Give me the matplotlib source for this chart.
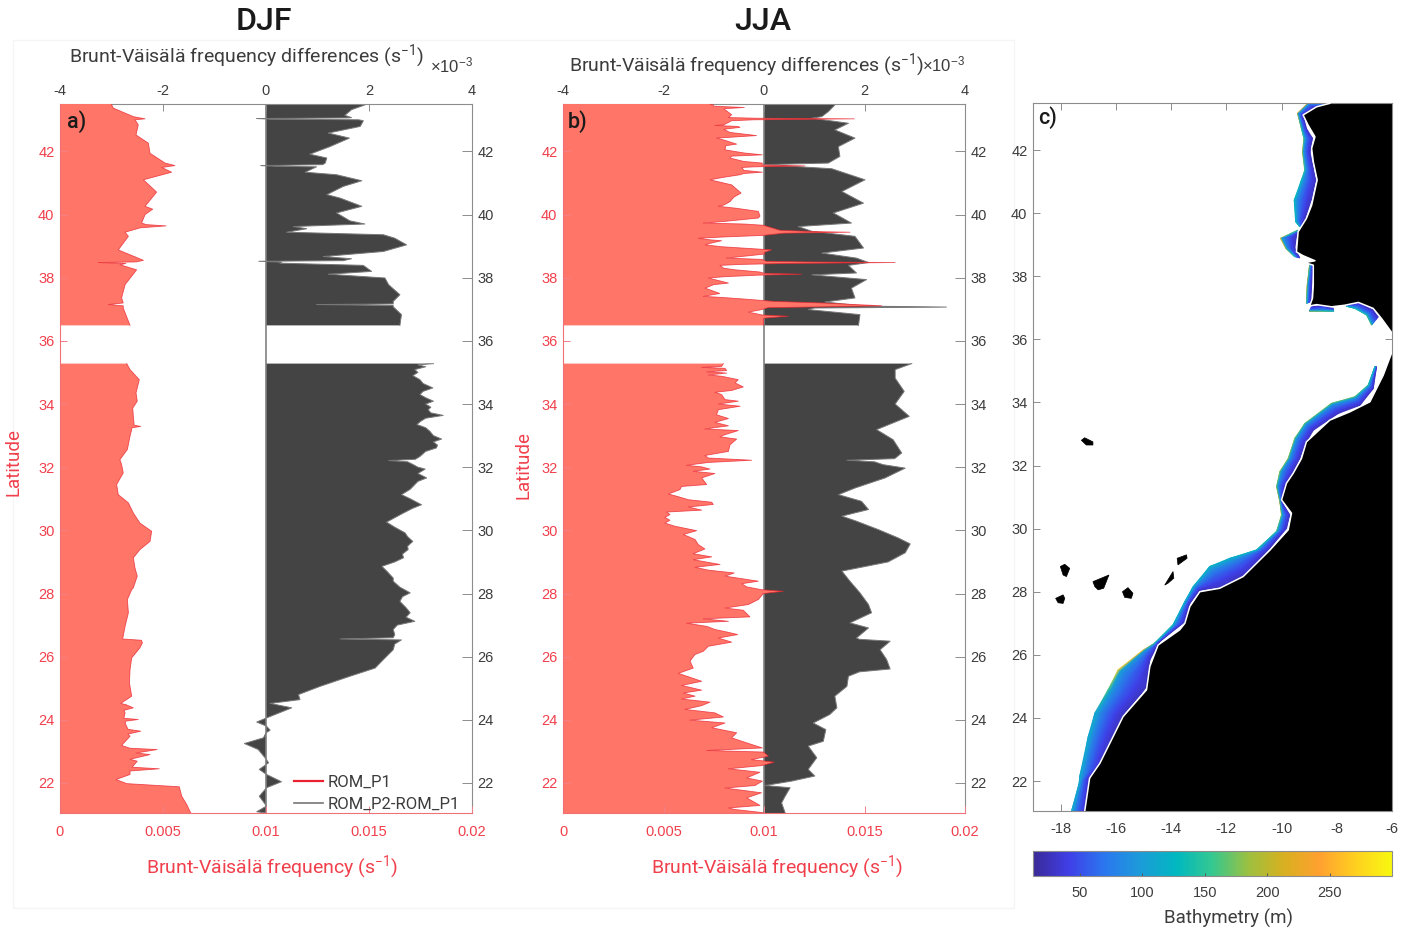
import numpy as np
import matplotlib
matplotlib.use("Agg")
import matplotlib.pyplot as plt
from matplotlib.colors import LinearSegmentedColormap, Normalize
from matplotlib.patches import Rectangle
from matplotlib.cm import ScalarMappable

W, H = 1411, 932
nan = float("nan")

# ---------- panel a (DJF) ----------
A_P1_LAT = [43.5,43.47,43.37,43.10,43.03,43.0,42.84,42.52,42.26,41.94,41.63,41.55,41.49,41.34,41.10,40.71,40.26,40.17,40.0,39.73,39.68,39.64,39.58,39.44,39.31,38.88,38.55,38.50,38.48,38.45,38.41,38.25,37.78,37.36,37.20,37.15,37.11,37.04,36.49,nan,
            35.28,35.09,34.77,34.35,34.09,33.87,33.61,33.33,33.29,33.25,32.98,32.56,32.24,32.08,31.82,31.45,31.13,30.87,30.55,30.23,29.97,29.65,29.39,29.13,28.81,28.55,28.18,
            28.12,27.81,27.39,26.96,26.56,26.52,26.44,26.28,25.96,25.59,25.17,24.75,24.52,24.48,24.38,24.30,24.22,24.05,24.01,23.96,23.90,23.70,23.64,23.55,23.48,23.19,23.10,23.06,22.95,22.90,22.75,22.69,22.50,22.45,22.38,22.27,22.11,21.98,21.88,21.58,21.32,21.06,21.0]
A_P1_VAL = [2.5,2.51,2.59,3.56,4.13,3.64,3.80,3.69,4.29,4.37,5.10,5.58,4.94,5.42,4.05,4.69,4.13,4.50,4.13,3.96,4.2,5.15,3.9,3.16,3.32,2.83,4.05,3.7,1.86,3.2,2.91,3.72,3.16,2.99,3.07,2.35,3.07,3.07,3.40,nan,
            3.24,3.40,3.85,3.69,3.75,3.53,3.56,3.6,3.92,3.5,3.40,3.27,2.91,2.99,3.07,2.75,2.83,3.32,3.56,3.88,4.45,4.37,3.88,3.56,3.64,3.75,3.56,
            3.48,3.27,3.32,3.16,3.04,3.95,4.0,3.88,3.48,3.40,3.37,3.48,2.95,3.2,3.56,3.1,3.16,3.1,3.80,3.2,3.16,3.3,3.92,3.3,3.40,2.99,3.4,4.72,3.7,4.37,3.4,3.75,3.5,4.82,3.4,3.40,2.72,3.24,5.79,5.91,6.15,6.34,6.4]
A_DIFF_LAT = [43.5,43.47,43.32,43.14,43.07,43.06,43.04,43.02,43.0,42.97,42.79,42.58,42.42,42.15,41.91,41.79,41.63,41.58,41.55,41.53,41.51,41.34,41.26,41.07,40.89,40.63,40.52,40.26,40.05,39.80,39.70,39.62,39.55,39.44,39.36,39.25,39.04,38.83,38.67,38.60,38.54,38.52,38.49,38.46,38.39,38.20,38.11,37.99,37.78,37.46,37.25,37.17,37.15,37.12,37.08,36.83,36.49,nan,
              35.28,35.24,35.18,35.09,35.0,34.9,34.77,34.65,34.51,34.40,34.30,34.2,34.09,34.0,33.90,33.82,33.72,33.64,33.55,33.45,33.35,33.25,33.14,33.0,32.89,32.8,32.7,32.61,32.5,32.34,32.25,32.21,32.17,32.08,32.0,31.94,31.8,31.66,31.55,31.45,31.3,31.13,31.0,30.81,30.7,30.55,30.4,30.26,30.1,29.92,29.8,29.65,29.5,29.39,29.25,29.13,29.0,28.86,28.7,28.49,
              28.39,28.2,28.02,27.9,27.75,27.55,27.39,27.25,27.12,27.0,26.86,26.7,26.60,26.56,26.53,26.4,26.22,25.91,25.64,25.38,25.06,24.80,24.64,24.52,24.38,24.06,23.93,23.80,23.67,23.59,23.43,23.25,23.06,22.74,22.64,22.43,22.27,22.04,21.85,21.58,21.27,21.09,21.05,21.0]
A_DIFF_VAL = [1.9,1.92,1.66,1.53,1.66,1.6,-0.18,0.1,1.8,1.89,1.83,1.21,1.62,1.24,0.85,1.18,1.15,1.1,-0.10,0.2,0.98,0.76,1.37,1.86,1.50,1.18,1.44,1.86,1.37,1.63,1.92,0.53,0.79,0.40,2.28,2.50,2.73,2.28,1.11,1.66,1.5,-0.14,0.3,0.27,1.89,2.05,1.21,2.31,2.38,2.60,2.47,2.47,0.98,2.47,2.47,2.63,2.60,nan,
              3.25,2.95,3.1,2.89,2.95,2.85,2.99,3.05,3.24,3.05,2.99,3.1,3.25,3.1,3.2,3.15,3.2,3.44,3.1,3.0,2.93,3.1,3.18,3.25,3.41,3.25,3.33,3.31,3.1,2.99,2.9,2.38,2.75,2.86,2.95,3.09,2.95,3.12,2.95,2.89,2.8,2.63,2.8,3.02,2.85,2.67,2.5,2.34,2.5,2.70,2.75,2.85,2.75,2.76,2.65,2.67,2.5,2.25,2.35,2.47,
              2.47,2.6,2.80,2.65,2.60,2.72,2.80,2.72,2.89,2.55,2.47,2.5,2.47,1.44,2.63,2.5,2.47,2.28,2.12,1.63,1.05,0.63,0.66,0.08,0.50,0.01,-0.18,0.01,0.08,0,-0.05,-0.42,-0.15,0.01,0.05,-0.13,0.01,0.30,0.01,-0.13,0.01,-0.18,0,0]

# ---------- panel b (JJA) ----------
B_P1_LAT = [43.5,43.47,43.43,43.39,43.35,43.32,43.16,43.07,43.05,43.03,43.0,42.97,42.84,42.82,42.79,42.76,42.70,42.60,42.50,42.44,42.42,42.36,42.23,42.18,42.05,41.95,41.89,41.85,41.79,41.68,41.63,41.57,41.54,41.51,41.49,41.40,41.34,41.30,41.26,41.18,41.10,40.94,40.68,40.55,40.41,40.30,40.26,40.20,40.10,39.95,39.89,39.78,39.73,39.70,39.66,39.50,39.46,39.44,39.41,39.34,39.29,39.25,39.20,39.17,39.10,39.04,38.98,38.96,38.90,38.88,38.80,38.75,38.68,38.62,38.58,38.52,38.50,38.48,38.45,38.42,38.39,38.30,38.25,38.18,38.14,38.11,38.08,38.03,37.99,37.90,37.83,37.78,37.67,37.50,37.41,37.37,37.33,37.25,37.20,37.11,37.05,36.99,36.91,36.82,36.78,36.72,36.67,36.49,nan,
            35.28,35.19,35.16,35.13,35.06,35.02,34.98,34.92,34.88,34.77,34.67,34.54,34.43,34.37,34.30,34.14,34.09,34.0,33.93,33.82,33.66,33.54,33.42,33.31,33.21,33.16,33.03,32.96,32.89,32.71,32.50,32.37,32.29,32.22,32.15,32.06,32.01,31.94,31.87,31.80,31.66,31.45,31.39,31.29,31.15,31.08,30.97,30.89,30.82,30.74,30.64,30.58,30.50,30.41,30.32,30.23,30.13,29.99,29.87,29.71,29.55,29.41,29.26,29.16,29.07,28.92,28.83,28.74,28.65,28.55,28.39,
            28.31,28.21,28.12,28.07,28.0,27.81,27.65,27.54,27.47,27.26,27.20,27.12,27.06,26.96,26.86,26.77,26.70,26.59,26.46,26.33,26.17,26.07,25.86,25.64,25.47,25.33,25.22,25.09,24.94,24.85,24.75,24.66,24.56,24.45,24.33,24.22,24.09,23.99,23.90,23.75,23.59,23.43,23.27,23.11,23.03,22.98,22.85,22.74,22.66,22.55,22.45,22.34,22.16,22.06,21.92,21.84,21.69,21.53,21.29,21.21,21.16,21.06,21.0]
B_P1_VAL = [7.3,7.48,7.5,9.02,8.0,8.06,8.39,8.23,9.6,14.5,9.5,8.39,8.0,7.56,8.7,8.81,8.0,8.3,9.63,8.2,7.64,8.0,8.64,8.1,8.06,9.0,9.92,8.4,8.31,9.0,9.92,9.9,12.04,9.5,8.89,9.0,9.92,9.0,8.81,8.0,7.31,8.39,8.86,8.5,8.31,8.0,7.73,8.6,9.72,9.8,9.72,8.0,6.98,9.0,9.97,10.8,12.5,14.28,11.0,9.97,8.0,6.73,7.3,7.89,7.4,7.07,7.9,8.39,9.9,10.38,10.0,10.05,9.0,8.14,9.9,10.1,12.0,16.52,11.0,8.8,7.81,8.0,8.56,9.8,10.0,11.87,9.7,8.0,7.23,7.8,8.23,7.5,7.07,7.8,6.98,8.0,8.89,10.5,12.87,15.85,10.2,9.88,9.22,9.9,11.21,10.0,9.97,9.97,nan,
            7.98,7.89,6.90,8.06,8.14,7.15,8.14,7.23,7.89,8.72,8.56,8.97,8.39,7.56,7.89,8.06,8.72,7.73,8.81,7.73,7.64,8.23,7.56,8.23,7.06,8.72,8.06,7.81,8.64,8.31,8.23,7.06,7.23,9.39,7.23,6.15,6.90,7.31,6.48,7.56,6.90,7.15,5.90,5.82,5.24,5.66,6.24,7.40,7.48,6.24,6.90,5.16,5.32,5.07,5.32,5.07,5.57,6.65,5.99,6.57,6.73,7.06,6.48,7.40,6.48,7.81,6.57,7.23,8.52,8.06,9.72,
            8.89,9.14,9.88,10.96,9.97,9.72,9.22,8.06,8.97,9.30,6.98,8.23,6.15,7.15,7.56,8.23,8.69,7.73,8.39,7.23,6.98,6.57,6.32,6.48,5.74,6.40,6.90,5.90,6.90,5.99,6.57,5.90,7.31,6.90,6.07,7.56,7.98,6.32,8.06,7.40,8.64,8.39,9.14,9.92,7.15,9.97,10.22,9.38,10.51,9.88,8.23,9.80,9.14,9.92,9.55,8.06,9.88,9.14,9.80,8.23,8.56,9.97,9.9]
B_DIFF_LAT = [43.5,43.47,43.26,43.10,43.05,42.89,42.68,42.42,42.15,41.84,41.63,41.58,41.45,41.10,40.73,40.36,40.05,39.73,39.62,39.47,39.31,38.94,38.78,38.62,38.48,38.39,38.15,38.09,37.94,37.67,37.36,37.23,37.10,37.07,37.04,36.99,36.83,36.49,nan,
              35.28,35.09,34.82,34.40,34.0,33.61,33.19,32.87,32.45,32.27,32.22,32.17,32.08,31.97,31.66,31.34,31.13,30.92,30.66,30.45,30.29,30.02,29.76,29.57,29.29,29.0,28.71,
              28.39,28.02,27.65,27.39,27.07,26.91,26.59,26.55,26.49,26.22,25.91,25.61,25.52,25.38,25.06,24.75,24.38,24.17,23.90,23.69,23.32,23.17,22.80,22.43,22.22,22.06,21.92,21.85,21.58,21.37,21.06,21.0]
B_DIFF_VAL = [1.4,1.41,1.28,1.15,0.95,1.68,1.41,1.81,1.48,1.51,1.28,0.02,1.35,2.01,1.55,1.98,1.38,1.74,0.68,0.95,1.81,1.98,1.15,1.84,2.08,1.68,1.84,0.95,2.04,1.74,1.81,1.21,2.0,3.63,1.0,0.88,1.91,1.88,nan,
              2.94,2.61,2.61,2.79,2.61,2.89,2.24,2.57,2.74,2.6,1.65,2.2,2.37,2.81,2.41,1.81,1.48,1.94,2.08,1.55,1.84,2.28,2.67,2.91,2.81,2.47,1.55,
              1.71,1.91,2.08,2.14,1.71,2.08,1.84,1.9,2.51,2.31,2.44,2.51,1.9,1.68,1.65,1.41,1.45,1.31,0.98,1.23,1.18,0.88,1.05,0.88,1.01,0.55,0.02,0.52,0.42,0.35,0.42,0.42]

# ---------- panel c (map) ----------
COAST_N_LON = [-8.25,-8.73,-9.22,-9.04,-8.79,-8.91,-8.85,-8.71,-8.91,-9.10,-9.40,-9.46,-9.22,-8.79,-9.16,-8.85,-8.85,-8.88,-8.98,-8.73,-8.19,-7.71,-7.22,-6.68,-6.38,-6.0]
COAST_N_LAT = [43.48,43.37,43.11,42.79,42.42,42.05,41.63,41.05,40.25,39.83,39.41,38.77,38.65,38.49,38.43,38.35,37.72,37.30,37.06,37.10,37.03,37.08,37.17,36.98,36.66,36.2]
COAST_S_LON = [-6.0,-6.32,-6.8,-7.53,-8.25,-9.10,-9.28,-9.58,-9.82,-10.0,-9.64,-9.76,-10.42,-11.39,-12.24,-12.96,-13.32,-13.50,-13.69,-14.47,-14.77,-14.89,-15.74,-16.16,-16.58,-16.95,-17.13]
COAST_S_LAT = [35.6,34.86,34.02,33.70,33.44,32.75,32.22,31.75,31.44,30.91,30.49,29.96,29.32,28.48,28.11,28.0,27.53,27.0,26.79,26.31,25.63,24.89,24.04,23.30,22.56,22.09,21.03]

S1_IN_LON = [-8.31,-8.85,-9.22,-9.10,-8.88,-8.97,-8.85,-8.76,-8.91,-9.16,-9.28]
S1_IN_LAT = [43.40,43.34,43.11,42.68,42.37,41.94,41.42,41.05,40.46,39.78,39.57]
S1_OUT_LON = [-8.31,-9.04,-9.42,-9.28,-9.19,-9.24,-9.16,-9.28,-9.54,-9.49,-9.34]
S1_OUT_LAT = [43.49,43.49,43.16,42.68,42.37,41.94,41.36,41.05,40.41,39.73,39.57]
S1_RIM = [160,230,230,160,160,200,160,130,130,130,130]
S2_IN_LON = [-9.40,-9.46,-9.52,-9.34]
S2_IN_LAT = [39.41,39.25,38.88,38.58]
S2_OUT_LON = [-9.40,-10.04,-9.84,-9.52]
S2_OUT_LAT = [39.46,39.20,38.88,38.62]
S2_RIM = [130,270,200,130]
S3_IN_LON = [-8.85,-8.91,-8.94]
S3_IN_LAT = [38.46,37.72,37.19]
S3_OUT_LON = [-8.97,-9.07,-9.10]
S3_OUT_LAT = [38.46,37.72,37.14]
S3_RIM = [170,210,170]
S4_IN_LON = [-8.91,-8.49,-8.13]
S4_IN_LAT = [37.03,37.08,36.98]
S4_OUT_LON = [-9.0,-8.49,-8.11]
S4_OUT_LAT = [36.89,36.89,36.89]
S4_RIM = [200,170,150]
S5_IN_LON = [-7.65,-7.16,-6.68,-6.50]
S5_IN_LAT = [37.08,37.14,36.93,36.71]
S5_OUT_LON = [-7.65,-7.34,-6.92,-6.74]
S5_OUT_LAT = [37.05,36.98,36.77,36.45]
S5_RIM = [130,140,150,170]
S6_IN_LON = [-6.56,-6.68,-7.16,-7.95,-8.85,-9.16,-9.34,-9.58,-9.88,-10.0,-9.70,-9.82,-10.42,-11.27,-12.11,-12.96,-13.32,-13.50,-14.41,-14.77,-14.89,-15.07,-15.74,-16.16,-16.52,-16.95,-17.07]
S6_IN_LAT = [35.13,34.44,33.91,33.65,33.12,32.65,32.22,31.81,31.33,30.86,30.43,30.01,29.38,28.58,28.16,28.04,27.63,27.05,26.42,25.84,24.99,24.78,24.09,23.30,22.56,22.14,21.03]
S6_OUT_LON = [-6.62,-6.86,-7.34,-8.19,-9.16,-9.52,-9.76,-10.06,-10.18,-10.06,-10.0,-10.18,-10.91,-11.87,-12.60,-13.20,-13.50,-13.93,-14.59,-15.01,-15.92,-16.28,-16.76,-17.0,-17.31,-17.33,-17.61]
S6_OUT_LAT = [35.13,34.55,34.18,33.97,33.33,32.86,32.22,31.81,31.33,30.86,30.43,29.91,29.32,29.06,28.80,28.16,27.69,26.95,26.37,26.15,25.52,24.89,24.15,23.41,22.14,21.93,21.03]
S6_RIM = [130,150,170,170,170,170,180,180,170,210,180,160,130,120,120,120,120,130,150,260,270,160,110,110,110,110,110]

SHELF_FRACTION = [0.0, 0.3, 0.6, 0.82, 0.93]
SHELF_DEPTH = [28, 42, 62, 85, 105]

ISLANDS = {
    "Madeira": ([-17.25,-17.13,-16.83,-16.83,-17.07], [32.80,32.88,32.75,32.65,32.65]),
    "La Palma": ([-18.01,-17.85,-17.67,-17.79,-17.91], [28.80,28.87,28.74,28.48,28.53]),
    "El Hierro": ([-18.18,-17.91,-17.85,-17.91,-18.09], [27.79,27.90,27.79,27.63,27.65]),
    "Tenerife": ([-16.83,-16.25,-16.44,-16.64,-16.76], [28.32,28.53,28.11,28.06,28.16]),
    "Gran Canaria": ([-15.76,-15.56,-15.38,-15.44,-15.68], [28.0,28.13,27.95,27.79,27.82]),
    "Fuerteventura": ([-14.23,-13.93,-13.90,-14.11], [28.21,28.64,28.43,28.27]),
    "Lanzarote": ([-13.78,-13.44,-13.42,-13.75], [29.06,29.17,29.06,28.85]),
}

LAT_TICKS = list(range(22, 43, 2))
LON_TICKS = list(range(-18, -5, 2))
N2_TICKS = [0, 0.005, 0.01, 0.015, 0.02]
N2_LABELS = ["0", "0.005", "0.01", "0.015", "0.02"]
DIFF_TICKS = [-4, -2, 0, 2, 4]
CBAR_TICKS = [50, 100, 150, 200, 250]

RED_TXT = "#F0404C"
FILL = "#FF7567"
REDLINE = "#E8222E"
DARK = "#444444"
GRAY = "#8C8C8C"
TXT = "#3C3C3C"
DIN = "Roboto"
ARIAL = "Liberation Sans"

plt.rcParams["mathtext.default"] = "regular"
plt.rcParams["font.family"] = DIN
plt.rcParams["axes.unicode_minus"] = False

fig = plt.figure(figsize=(W / 100, H / 100), dpi=100, facecolor="white")


def axpx(x0, x1, y0, y1):
    return fig.add_axes([x0 / W, 1 - y1 / H, (x1 - x0) / W, (y1 - y0) / H])


def txt(x, y, s, **kw):
    kw.setdefault("ha", "center")
    kw.setdefault("va", "center")
    return fig.text(x / W, 1 - y / H, s, **kw)


# faint panel background of the source composite
bg = Rectangle((13 / W, 1 - 908 / H), 1001 / W, 868 / H, transform=fig.transFigure,
               fill=False, ec="#F5F5F5", lw=1, zorder=-5)
fig.add_artist(bg)


def profile(x0, x1, p1_lat, p1_val, d_lat, d_val, legend=False):
    ax_d = axpx(x0, x1, 104, 813)
    ax_d.set_zorder(1)
    lat = np.array(d_lat, float)
    val = np.array(d_val, float)
    ax_d.fill_betweenx(lat, 0, val, color=DARK, lw=0)
    h2, = ax_d.plot(val, lat, color="#777777", lw=0.7)
    ax_d.axvline(0, color="#808080", lw=1.2)
    ax_d.set_xlim(-4, 4)
    ax_d.set_ylim(21.05, 43.5)
    ax_d.xaxis.tick_top()
    ax_d.yaxis.tick_right()
    ax_d.set_xticks(DIFF_TICKS)
    ax_d.set_yticks(LAT_TICKS)
    ax_d.tick_params(axis="x", direction="in", length=5, width=0.7, color=GRAY, labelcolor=TXT,
                     labelsize=10.5, labelfontfamily=ARIAL, pad=4)
    ax_d.tick_params(axis="y", direction="in", length=7, width=0.7, color=GRAY, labelcolor=TXT,
                     labelsize=10.5, labelfontfamily=ARIAL, pad=4)

    ax = fig.add_axes(ax_d.get_position())
    ax.set_zorder(2)
    ax.patch.set_visible(False)
    lat = np.array(p1_lat, float)
    val = np.array(p1_val, float) * 1e-3
    ax.fill_betweenx(lat, 0, val, color=FILL, lw=0)
    h1, = ax.plot(val, lat, color=REDLINE, lw=0.6, alpha=0.75)
    ax.set_xlim(0, 0.02)
    ax.set_ylim(21.05, 43.5)
    ax.set_xticks(N2_TICKS)
    ax.set_xticklabels(N2_LABELS)
    ax.set_yticks(LAT_TICKS)
    ax.tick_params(axis="x", direction="in", length=5, width=0.7, color="#F08088",
                   labelcolor=RED_TXT, labelsize=10.5, labelfontfamily=ARIAL, pad=9)
    ax.tick_params(axis="y", direction="in", length=5, width=0.7, color="#F08088",
                   labelcolor=RED_TXT, labelsize=10.5, labelfontfamily=ARIAL, pad=4)
    for sp in ("left", "bottom"):
        ax.spines[sp].set_color("#F07078")
    for sp in ("top", "right"):
        ax.spines[sp].set_visible(False)
    for sp in ax_d.spines.values():
        sp.set_color(GRAY)
    ax_d.spines["left"].set_visible(False)
    ax_d.spines["bottom"].set_visible(False)
    if legend:
        ax.legend([h1, h2], ["ROM_P1", "ROM_P2-ROM_P1"], loc="lower right",
                  bbox_to_anchor=(0.995, -0.012), frameon=False, fontsize=12, handlelength=1.75,
                  handletextpad=0.3, labelspacing=0.42, labelcolor=TXT, borderpad=0.1)
        leg = ax.get_legend()
        leg.get_lines()[0].set_linewidth(1.6)
        leg.get_lines()[0].set_alpha(1)
        leg.get_lines()[1].set_linewidth(1.2)
    return ax


profile(60, 472, A_P1_LAT, A_P1_VAL, A_DIFF_LAT, A_DIFF_VAL, legend=True)
profile(563, 965, B_P1_LAT, B_P1_VAL, B_DIFF_LAT, B_DIFF_VAL)

# titles and labels
txt(264, 22, "DJF", fontsize=23, color="#1A1A1A", fontweight="medium")
txt(763, 22, "JJA", fontsize=23, color="#1A1A1A", fontweight="medium")
DIFF_LABEL = "Brunt-Väisälä frequency differences (s$^{-1}$)"
N2_LABEL = "Brunt-Väisälä frequency (s$^{-1}$)"
txt(246, 56, DIFF_LABEL, fontsize=14, color=TXT)
txt(746, 65, DIFF_LABEL, fontsize=14, color=TXT)
txt(452, 65, r"$\times$10$^{-3}$", fontsize=12, color=TXT, family=ARIAL)
txt(944, 64, r"$\times$10$^{-3}$", fontsize=12, color=TXT, family=ARIAL)
txt(272, 867, N2_LABEL, fontsize=14, color=RED_TXT)
txt(777, 867, N2_LABEL, fontsize=14, color=RED_TXT)
txt(13, 462, "Latitude", fontsize=13.5, color=RED_TXT, rotation=90)
txt(523, 465, "Latitude", fontsize=13.5, color=RED_TXT, rotation=90)
txt(77, 122, "a)", fontsize=15.5, color="#1A1A1A", fontweight="medium")
txt(578, 122, "b)", fontsize=15.5, color="#1A1A1A", fontweight="medium")
txt(1048, 118, "c)", fontsize=15.5, color="#1A1A1A", fontweight="medium")

# ---------- map ----------
mp = axpx(1033, 1392, 103, 811)
mp.set_xlim(-19, -6)
mp.set_ylim(21.05, 43.49)

colors = ["#3B2A98", "#3F3FE8", "#2A78EE", "#1C9CD8", "#00B8C0", "#36C890", "#9CC040",
          "#D8B020", "#FFA030", "#FFD020", "#F8F810"]
cmap = LinearSegmentedColormap.from_list("bathy", colors)
norm = Normalize(12.4, 300)

sections = [
    (S1_IN_LON, S1_IN_LAT, S1_OUT_LON, S1_OUT_LAT, S1_RIM),
    (S2_IN_LON, S2_IN_LAT, S2_OUT_LON, S2_OUT_LAT, S2_RIM),
    (S3_IN_LON, S3_IN_LAT, S3_OUT_LON, S3_OUT_LAT, S3_RIM),
    (S4_IN_LON, S4_IN_LAT, S4_OUT_LON, S4_OUT_LAT, S4_RIM),
    (S5_IN_LON, S5_IN_LAT, S5_OUT_LON, S5_OUT_LAT, S5_RIM),
    (S6_IN_LON, S6_IN_LAT, S6_OUT_LON, S6_OUT_LAT, S6_RIM),
]
f = np.array(SHELF_FRACTION + [1.0])
for in_lon, in_lat, out_lon, out_lat, rim in sections:
    X = np.outer(np.array(in_lon), 1 - f) + np.outer(np.array(out_lon), f)
    Y = np.outer(np.array(in_lat), 1 - f) + np.outer(np.array(out_lat), f)
    C = np.column_stack([np.tile(np.array(SHELF_DEPTH, float), (len(in_lon), 1)), np.array(rim, float)])
    mp.pcolormesh(X, Y, C, cmap=cmap, norm=norm, shading="gouraud", zorder=1)

mp.fill(COAST_N_LON + [-6, -6, -8.25], COAST_N_LAT + [36.2, 43.6, 43.6], color="black", lw=0, zorder=2)
mp.fill(COAST_S_LON + [-17.13, -6], COAST_S_LAT + [20.9, 20.9], color="black", lw=0, zorder=2)
mp.plot(COAST_N_LON, COAST_N_LAT, color="white", lw=1.1, zorder=3)
mp.plot(COAST_S_LON, COAST_S_LAT, color="white", lw=1.1, zorder=3)
for lons, lats in ISLANDS.values():
    mp.fill(lons, lats, color="black", lw=0.5, ec="black", zorder=2)

mp.set_xticks(LON_TICKS)
mp.set_yticks(LAT_TICKS)
mp.tick_params(axis="x", direction="in", length=5, width=0.7, color=GRAY, labelcolor=TXT,
               labelsize=10.5, labelfontfamily=ARIAL, top=True, pad=8)
mp.tick_params(axis="y", direction="in", length=5, width=0.7, color=GRAY, labelcolor=TXT,
               labelsize=10.5, labelfontfamily=ARIAL, right=True, pad=4)
for sp in mp.spines.values():
    sp.set_color(GRAY)

cax = axpx(1033, 1392, 851, 876)
cb = fig.colorbar(ScalarMappable(norm=norm, cmap=cmap), cax=cax, orientation="horizontal")
cb.set_ticks(CBAR_TICKS)
cb.ax.tick_params(direction="in", length=2.5, width=0.7, color="#555555", labelcolor=TXT,
                  labelsize=10.5, labelfontfamily=ARIAL, pad=7)
cb.outline.set_edgecolor(GRAY)
txt(1228, 918, "Bathymetry (m)", fontsize=13.5, color=TXT)

fig.savefig("out.png", dpi=100, facecolor="white")
